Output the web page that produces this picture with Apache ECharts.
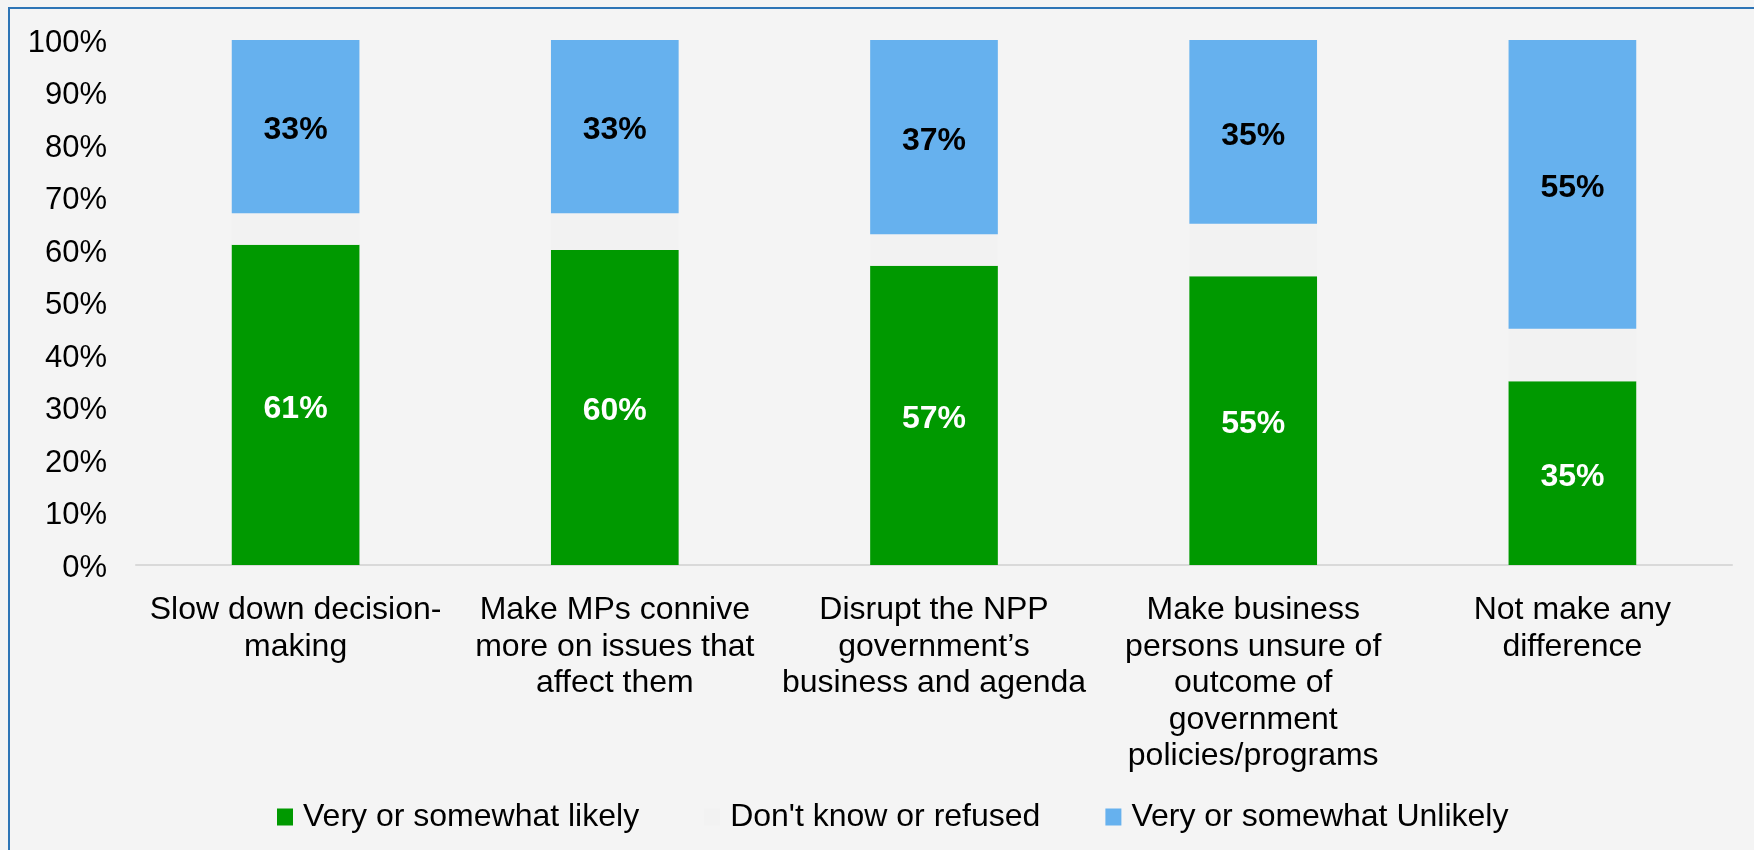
<!DOCTYPE html>
<html>
<head>
<meta charset="utf-8">
<title>Likely effects</title>
<script src="https://cdn.jsdelivr.net/npm/echarts@6/dist/echarts.min.js"></script>
<style>
  html, body { margin: 0; padding: 0; background: #f4f4f4; }
  #chart { width: 1754px; height: 850px; }
</style>
</head>
<body>
<div id="chart"></div>
<script>
// Categories (x axis), one per effect
const categories = [
  'Slow down decision-\nmaking',
  'Make MPs connive\nmore on issues that\naffect them',
  'Disrupt the NPP\ngovernment\u2019s\nbusiness and agenda',
  'Make business\npersons unsure of\noutcome of\ngovernment\npolicies/programs',
  'Not make any\ndifference'
];

// Series values, percent
const likely   = [61, 60, 57, 55, 35];
const dontKnow = [6, 7, 6, 10, 10];
const unlikely = [33, 33, 37, 35, 55];

const seriesNames = ['Very or somewhat likely', "Don't know or refused", 'Very or somewhat Unlikely'];

// Y axis range
const yMin = 0, yMax = 100, yStep = 10;

const FONT = "'Liberation Sans', Arial, sans-serif";

const chart = echarts.init(document.getElementById('chart'), null, { renderer: 'canvas' });

const labelBase = {
  show: true,
  position: 'inside',
  offset: [0, 4],
  formatter: '{c}%',
  fontFamily: FONT,
  fontWeight: 'bold',
  fontSize: 32
};

chart.setOption({
  backgroundColor: '#f4f4f4',
  animation: false,
  textStyle: { fontFamily: FONT },
  graphic: [{
    type: 'rect',
    silent: true,
    shape: { x: 9, y: 8, width: 1800, height: 900 },
    style: { fill: 'none', stroke: '#2e75b6', lineWidth: 2 }
  }],
  grid: { left: 136, right: 22, top: 40, bottom: 285, containLabel: false },
  legend: {
    top: 796,
    left: 272,
    itemWidth: 16,
    itemHeight: 17,
    itemGap: 65,
    icon: 'rect',
    textStyle: { fontFamily: FONT, fontSize: 32, color: '#000', padding: [0, 0, 0, 5] },
    data: seriesNames
  },
  xAxis: {
    type: 'category',
    data: categories,
    axisLine: { show: true, lineStyle: { color: '#d9d9d9', width: 2 } },
    axisTick: { show: false },
    axisLabel: {
      interval: 0,
      margin: 27,
      fontFamily: FONT,
      fontSize: 32,
      lineHeight: 36.5,
      color: '#000',
      align: 'center',
      verticalAlign: 'top'
    }
  },
  yAxis: {
    type: 'value',
    min: yMin,
    max: yMax,
    interval: yStep,
    axisLine: { show: false },
    axisTick: { show: false },
    splitLine: { show: false },
    axisLabel: {
      margin: 29,
      color: '#000',
      formatter: v => '{t|' + v + '%}',
      rich: {
        t: { fontFamily: FONT, fontSize: 31, color: '#000', padding: [6, 0, 0, 0] }
      }
    }
  },
  series: [
    {
      name: seriesNames[0],
      type: 'bar',
      stack: 'total',
      barWidth: '40%',
      data: likely,
      itemStyle: { color: '#009900' },
      label: Object.assign({}, labelBase, { color: '#ffffff' })
    },
    {
      name: seriesNames[1],
      type: 'bar',
      stack: 'total',
      barWidth: '40%',
      data: dontKnow,
      itemStyle: { color: '#f2f2f2' },
      label: { show: false }
    },
    {
      name: seriesNames[2],
      type: 'bar',
      stack: 'total',
      barWidth: '40%',
      data: unlikely,
      itemStyle: { color: '#66b1ee' },
      label: Object.assign({}, labelBase, { color: '#000000' })
    }
  ]
});
</script>
</body>
</html>
